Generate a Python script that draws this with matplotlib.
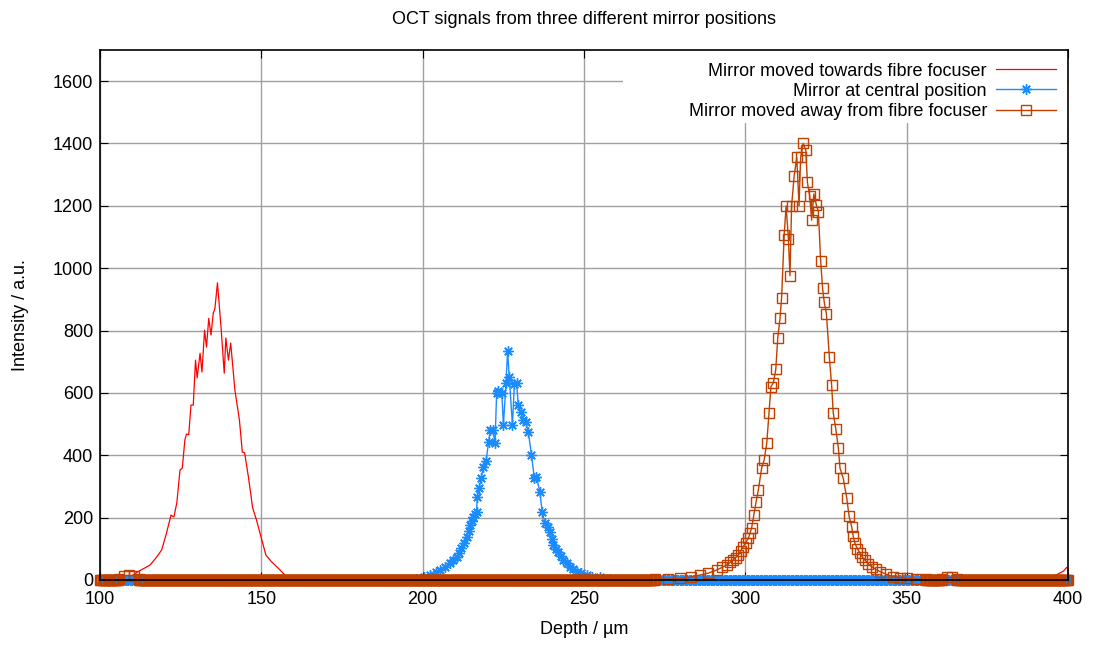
import numpy as np
import matplotlib.pyplot as plt
from matplotlib.patches import Rectangle

plt.rcParams['font.family'] = ['Liberation Sans', 'DejaVu Sans']

# peak readings (depth in um, intensity in a.u.)
red_x = [103, 106, 108, 110.2, 112, 113.8, 115.5, 117.3, 119.1, 120.6, 122, 122.9, 123.8, 124.8,
         125.5, 126.3, 126.8, 127.5, 128.2, 128.9, 129.6, 130.1, 131, 131.6, 132.4, 133, 133.7,
         134.4, 135.1, 135.6, 136.4, 137.5, 138.5, 139, 139.8, 140.5, 141.8, 143.2, 144.1, 144.8,
         146, 147.3, 148.5, 149.9, 151.4, 153.2, 155.2, 157.3, 159, 161]
red_y = [0, 2, 6, 16, 28, 38, 48, 70, 96, 150, 208, 202, 247, 353,
         359, 449, 468, 466, 561, 561, 705, 648, 727, 667, 801, 747, 839,
         786, 856, 870, 953, 811, 663, 776, 705, 760, 609, 513, 410, 408,
         330, 231, 192, 138, 80, 58, 38, 16, 5, 0]
red_tail_x = [390, 392, 394, 395.5, 397, 398.5, 399.5, 400]
red_tail_y = [0, 5, 8, 12, 20, 28, 40, 35]

blue_x = [198, 200.5, 202.3, 204, 205.4, 207, 208.5, 209.5, 210.5, 211.3, 212, 212.8, 213.6, 214.2,
          214.7, 215.2, 215.7, 216.2, 216.7, 216.9, 217.5, 218.1, 218.8, 219.6, 220.4, 220.9,
          221.7, 222.4, 222.9, 223.4, 224.5, 225, 225.8, 226.3, 226.8, 227.8, 228.4, 229.1,
          229.6, 230.3, 231.2, 231.9, 232.7, 233.7, 234.6, 235.2, 236.3, 237, 237.9, 238.9,
          239.4, 240, 240.5, 241.2, 242, 242.8, 243.6, 244.6, 245.6, 246.6, 247.7, 249, 250.8,
          252.5, 255, 258]
blue_y = [2, 8, 16, 24, 32, 42, 54, 64, 75, 88, 102, 120, 139, 158,
          176, 190, 203, 212, 219, 267, 295, 327, 363, 380, 443, 481,
          481, 439, 599, 605, 600, 497, 631, 735, 652, 497, 628, 631,
          561, 540, 513, 507, 475, 401, 326, 331, 283, 219, 182, 171,
          155, 130, 112, 100, 91, 76, 64, 53, 43, 35, 27, 21, 16,
          11, 8, 3]

orange_x = [272, 276, 279.7, 283, 286, 288.5, 291.1, 292.7, 294.2, 295.2, 296.2, 297, 297.8, 298.5,
            299.3, 300.1, 300.9, 301.4, 301.9, 302.6, 303.3, 304, 305, 305.8, 306.6, 307.3,
            307.9, 308.6, 309.4, 310, 310.7, 311.2, 312, 312.6, 313.3, 313.8, 314.3, 315.1,
            315.9, 316.6, 317.1, 317.9, 318.7, 319.2, 319.9, 320.5, 321.2, 322, 322.6, 323.3,
            323.9, 324.4, 325.1, 326, 326.7, 327.2, 328, 328.8, 329.3, 330.3, 331.4, 332.1,
            332.9, 333.4, 333.9, 334.7, 335.5, 336.2, 337, 338, 339.1, 340.4, 341.7, 343.7,
            345.8, 348, 350, 353, 356]
orange_y = [2, 3, 5, 9, 16, 22, 32, 40, 48, 56, 64, 72, 80, 93,
            107, 120, 134, 150, 166, 208, 251, 289, 358, 385, 438, 534,
            620, 631, 675, 775, 839, 905, 1106, 1200, 1095, 976, 1200, 1296,
            1355, 1200, 1355, 1400, 1379, 1275, 1232, 1154, 1238, 1202, 1181, 1023,
            935, 892, 853, 714, 625, 536, 484, 422, 358, 326, 262, 205,
            171, 140, 118, 100, 86, 74, 64, 52, 43, 34, 27, 18,
            11, 7, 5, 3, 2]
orange_bump_x = [106, 107.5, 109, 110.5, 112]
orange_bump_y = [4, 14, 15, 13, 4]
orange_bump2_x = [361, 362.5, 364, 365.5]
orange_bump2_y = [3, 8, 8, 3]


def with_baseline(px, py, extra=()):
    """put the peak readings on a flat baseline sampled every 0.4 um"""
    base = np.arange(100, 400.001, 0.4)
    keep = (base < min(px)) | (base > max(px))
    xs, ys = [base[keep]], [np.zeros(keep.sum())]
    for ex, ey in extra:
        m = (xs[0] < min(ex)) | (xs[0] > max(ex))
        xs[0], ys[0] = xs[0][m], ys[0][m]
        xs.append(np.array(ex, float))
        ys.append(np.array(ey, float))
    xs.append(np.array(px, float))
    ys.append(np.array(py, float))
    x = np.concatenate(xs)
    y = np.concatenate(ys)
    order = np.argsort(x)
    return x[order], y[order]


rx, ry = with_baseline(red_x, red_y, [(red_tail_x, red_tail_y)])
bx, by = with_baseline(blue_x, blue_y)
ox, oy = with_baseline(orange_x, orange_y, [(orange_bump_x, orange_bump_y),
                                            (orange_bump2_x, orange_bump2_y)])

fig = plt.figure(figsize=(10.94, 6.48), dpi=100)
ax = fig.add_axes([0.0914, 0.105, 0.885, 0.818])

ax.plot(rx, ry, color='#ff0000', lw=0.9, label='Mirror moved towards fibre focuser', clip_on=False)
ax.plot(bx, by, color='#1a8cff', lw=1.0, marker=(8, 2, 0), ms=7.5, mew=1.0,
        label='Mirror at central position', clip_on=False)
ax.plot(ox, oy, color='#c04000', lw=1.0, marker='s', ms=7, mfc='none', mew=1.0,
        label='Mirror moved away from fibre focuser', clip_on=False)

ax.set_xlim(100, 400)
ax.set_ylim(0, 1700)
ax.set_xticks(np.arange(100, 401, 50))
ax.set_yticks(np.arange(0, 1601, 200))
ax.grid(True, color='#a0a0a0', lw=1.0)
ax.set_axisbelow(True)
ax.tick_params(direction='in', length=6, top=True, right=True, labelsize=13)
ax.tick_params(axis='x', pad=8)
ax.tick_params(axis='y', pad=5)
for s in ax.spines.values():
    s.set_linewidth(1.2)

# white key box hiding the grid, as in the original
ax.add_patch(Rectangle((0.540, 0.862), 0.46, 0.138, transform=ax.transAxes,
                       facecolor='white', edgecolor='none', zorder=0.8))

ax.set_xlabel('Depth / µm', fontsize=13, labelpad=9)
ax.set_ylabel('Intensity / a.u.', fontsize=13, labelpad=17)
ax.set_title('OCT signals from three different mirror positions', fontsize=13, pad=19)

leg = ax.legend(loc='upper right', markerfirst=False, fontsize=13, frameon=False,
                handlelength=3.3, handletextpad=0.5, labelspacing=0.18,
                borderaxespad=0.3, bbox_to_anchor=(1.0, 1.0))
for t in leg.get_texts():
    t.set_ha('right')

fig.savefig('out.png', dpi=100)
